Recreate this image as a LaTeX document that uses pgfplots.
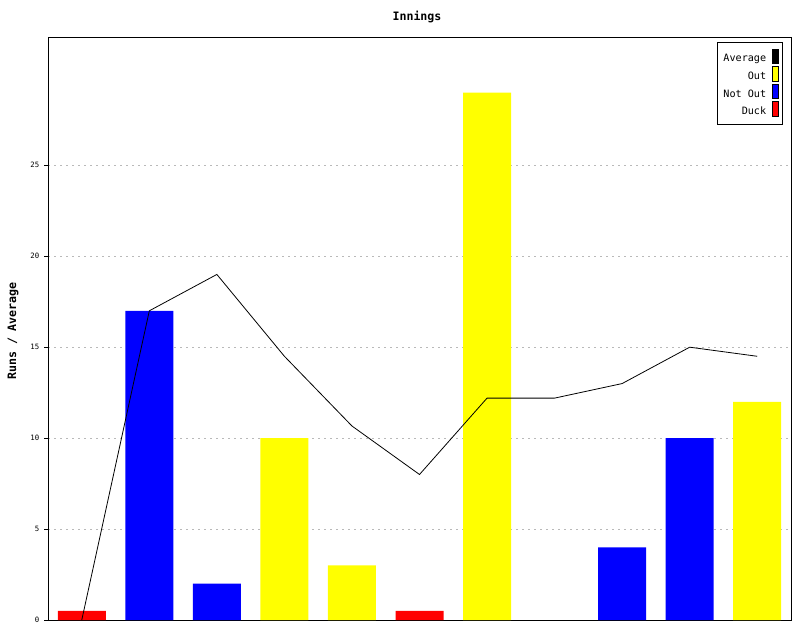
\documentclass[border=0pt]{standalone}
\usepackage{fontspec}
\setmainfont{DejaVu Sans Mono}
\usepackage{pgfplots}
\pgfplotsset{compat=1.18}
\definecolor{duck}{RGB}{255,0,0}
\definecolor{notout}{RGB}{0,0,255}
\definecolor{out}{RGB}{255,255,0}
\begin{document}
\begin{tikzpicture}[x=0.75pt,y=0.75pt]
\useasboundingbox (0,0) rectangle (800,640);
\begin{axis}[
  at={(36pt,15pt)}, anchor=south west,
  scale only axis, width=557.25pt, height=436.5pt,
  xmin=-0.5, xmax=10.5, ymin=0, ymax=32,
  xtick=\empty,
  ytick={0,5,10,15,20,25},
  ytick pos=left, tick align=outside, major tick length=3pt,
  tick style={black, line width=0.6pt},
  axis line style={black, line width=0.75pt},
  ymajorgrids, grid style={gray!55, line width=0.5pt, dash pattern=on 1.5pt off 3pt},
  yticklabel style={font=\fontsize{5.5}{6}\selectfont},
  /pgf/number format/assume math mode=true,
  ybar, bar width=36pt, bar shift=0pt,
  legend style={at={(0.989,0.993)}, anchor=north east, draw=black, line width=0.6pt,
    font=\fontsize{7.6}{8}\selectfont, row sep=0.4pt, inner xsep=3pt, inner ysep=4.6pt,
    nodes={inner sep=1.2pt}},
  legend cell align=right, legend plot pos=right, reverse legend,
]
\addplot[fill=duck, draw=none,
  legend image code/.code={\path (0pt,0pt); \draw[fill=duck,draw=black,line width=0.4pt] (3pt,-3.2pt) rectangle (7.5pt,7.8pt);}]
  coordinates {(0,0.5) (5,0.5)};
\addlegendentry{Duck}
\addplot[fill=notout, draw=none,
  legend image code/.code={\path (0pt,0pt); \draw[fill=notout,draw=black,line width=0.4pt] (3pt,-3.2pt) rectangle (7.5pt,7.8pt);}]
  coordinates {(1,17) (2,2) (8,4) (9,10)};
\addlegendentry{Not Out}
\addplot[fill=out, draw=none,
  legend image code/.code={\path (0pt,0pt); \draw[fill=out,draw=black,line width=0.4pt] (3pt,-3.2pt) rectangle (7.5pt,7.8pt);}]
  coordinates {(3,10) (4,3) (6,29) (10,12)};
\addlegendentry{Out}
\addplot[sharp plot, black, line width=0.6pt, mark=none,
  legend image code/.code={\path (0pt,0pt); \draw[fill=black,draw=black,line width=0.4pt] (3pt,-3.2pt) rectangle (7.5pt,7.8pt);}]
  coordinates {(0,0) (1,17) (2,19) (3,14.5) (4,10.667) (5,8) (6,12.2) (7,12.2) (8,13) (9,15) (10,14.5)};
\addlegendentry{Average}
\end{axis}
\node[font=\bfseries\fontsize{8.7}{10}\selectfont] at (417,623) {Innings};
\node[font=\bfseries\fontsize{8.7}{10}\selectfont, rotate=90] at (13,309) {Runs / Average};
\end{tikzpicture}
\end{document}
